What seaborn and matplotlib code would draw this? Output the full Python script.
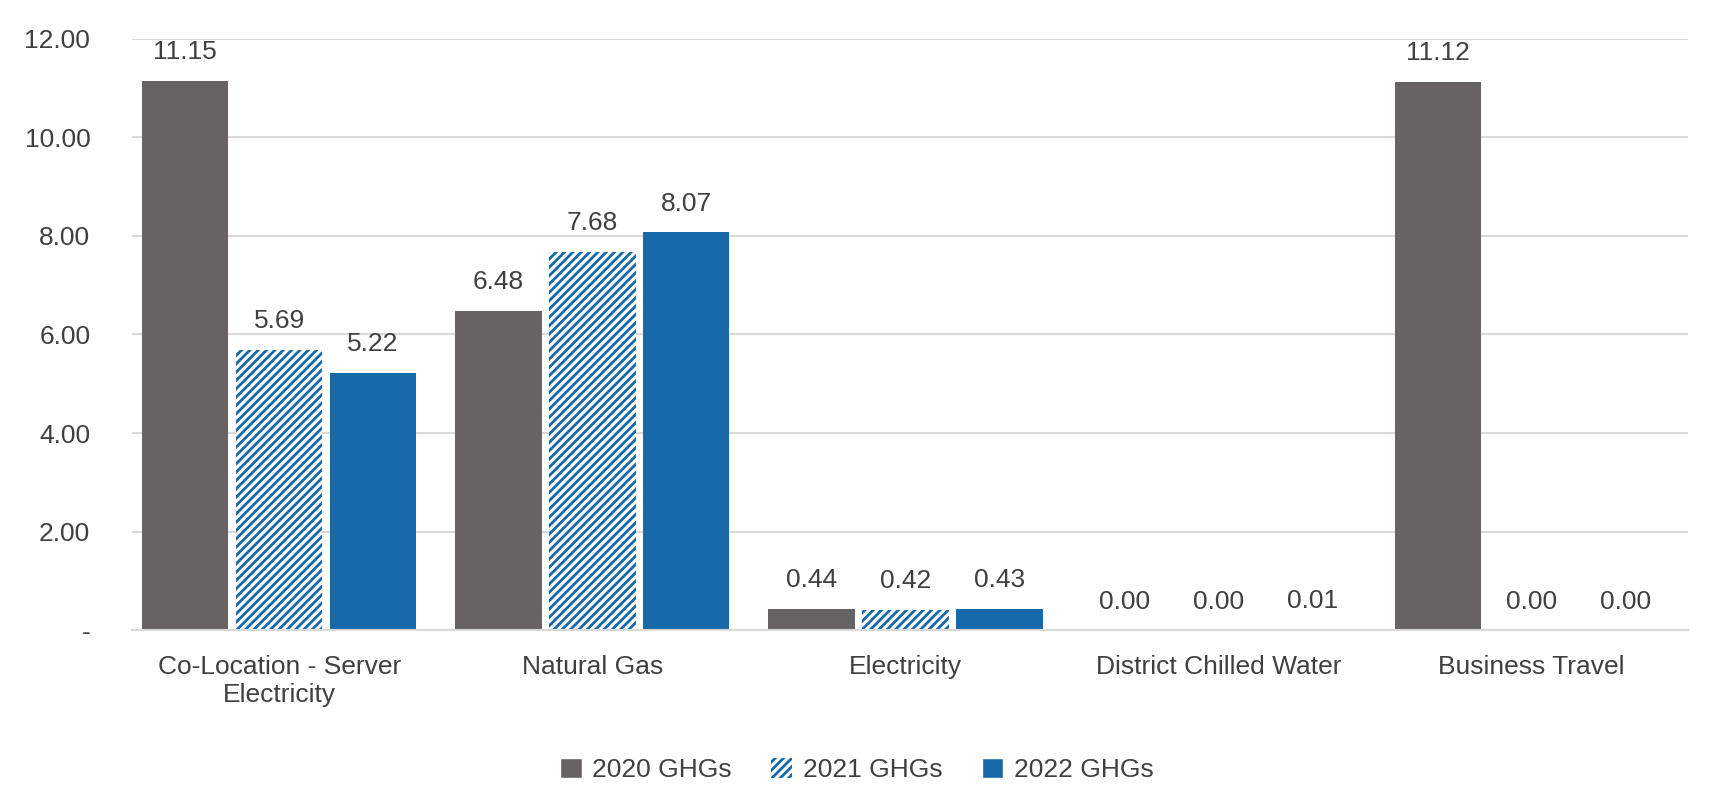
import pandas as pd
import matplotlib.pyplot as plt
import matplotlib.patches as mpatches
import seaborn as sns

categories = ['Co-Location - Server\nElectricity', 'Natural Gas', 'Electricity',
              'District Chilled Water', 'Business Travel']
series = ['2020 GHGs', '2021 GHGs', '2022 GHGs']
ghg_2020 = [11.15, 6.48, 0.44, 0.00, 11.12]
ghg_2021 = [5.69, 7.68, 0.42, 0.00, 0.00]
ghg_2022 = [5.22, 8.07, 0.43, 0.01, 0.00]

rows = []
for s, vals in zip(series, [ghg_2020, ghg_2021, ghg_2022]):
    for c, v in zip(categories, vals):
        rows.append({'Category': c, 'Series': s, 'Value': v})
df = pd.DataFrame(rows)

gray = '#686363'
blue = '#1769aa'

sns.set_style('white')
plt.rcParams['font.family'] = ['Liberation Sans', 'DejaVu Sans']
plt.rcParams['hatch.linewidth'] = 2.0
plt.rcParams['hatch.color'] = blue

fig, ax = plt.subplots(figsize=(17.14, 8.06), dpi=100)
sns.barplot(data=df, x='Category', y='Value', hue='Series', order=categories,
            hue_order=series, palette=[gray, 'white', blue], width=0.9,
            saturation=1, ax=ax, legend=False)

for i, cont in enumerate(ax.containers):
    for p in cont:
        # shrink each bar a bit to leave the small white gaps
        w = p.get_width()
        p.set_x(p.get_x() + w * 0.04)
        p.set_width(w * 0.92)
        p.set_linewidth(0)
        if i == 1:
            p.set_facecolor('white')
            p.set_edgecolor(blue)
            p.set_hatch('////')
    ax.bar_label(cont, fmt='%.2f', padding=12, fontsize=19, color='#404040')

ax.set_ylim(0, 12)
ax.set_yticks([0, 2, 4, 6, 8, 10, 12])
ax.set_yticklabels(['-', '2.00', '4.00', '6.00', '8.00', '10.00', '12.00'])
ax.set_xlim(-0.47, 4.5)
ax.yaxis.grid(True, color='#d9d9d9', linewidth=1.5)
ax.set_axisbelow(True)
for sp in ['top', 'right', 'left']:
    ax.spines[sp].set_visible(False)
ax.spines['bottom'].set_color('#d9d9d9')
ax.spines['bottom'].set_linewidth(1.5)
ax.tick_params(axis='y', labelsize=19, colors='#404040', length=0, pad=30)
ax.tick_params(axis='x', labelsize=19, colors='#404040', length=0, pad=18)
ax.set_xlabel('')
ax.set_ylabel('')

handles = [mpatches.Patch(facecolor=gray, label=series[0]),
           mpatches.Patch(facecolor='white', edgecolor=blue, hatch='////', linewidth=0, label=series[1]),
           mpatches.Patch(facecolor=blue, label=series[2])]
fig.legend(handles=handles, loc='lower center', ncol=3, frameon=False, fontsize=19,
           bbox_to_anchor=(0.5, 0.0), handlelength=0.8, handleheight=0.8,
           columnspacing=1.5, handletextpad=0.4, labelcolor='#404040')

ax.set_position([0.077, 0.218, 0.908, 0.734])
fig.savefig('out.png', dpi=100)
